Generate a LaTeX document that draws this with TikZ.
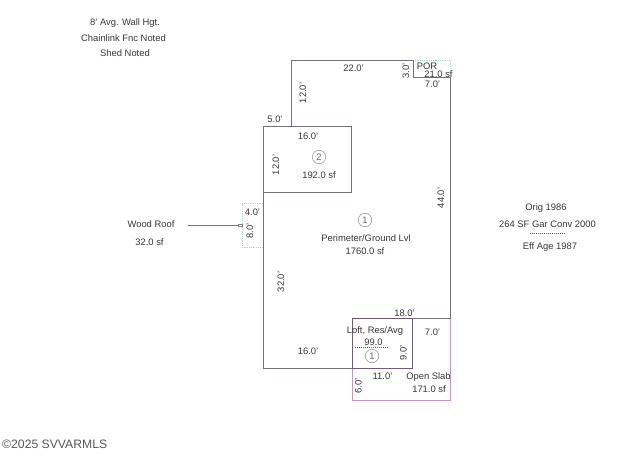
\documentclass[tikz,border=0pt]{standalone}
\usepackage{fontspec}
\setmainfont{Liberation Sans}
\definecolor{wallc}{RGB}{118,112,124}
\definecolor{tealc}{RGB}{175,215,210}
\definecolor{slabc}{RGB}{200,150,195}
\definecolor{loftc}{RGB}{115,90,120}
\definecolor{txt}{RGB}{55,55,55}
\tikzset{
 lbl/.style={font=\fontsize{9.4}{11}\selectfont,text=txt,inner sep=0pt,align=center},
 vlbl/.style={lbl,rotate=90},
 wall/.style={draw=wallc,line width=0.9pt},
 tealbox/.style={draw=tealc,line width=0.8pt,densely dotted},
 slab/.style={draw=slabc,line width=0.9pt},
 loft/.style={draw=loftc,line width=1pt},
 badge/.style={circle,draw=gray,line width=0.4pt,minimum size=13.5pt,inner sep=0pt,font=\fontsize{9.4}{11}\selectfont,text=gray!80!black}
}
\begin{document}
\begin{tikzpicture}[x=1pt,y=-1pt]
\useasboundingbox (0,0) rectangle (640,460);
\fill[white] (0,0) rectangle (640,460);
% teal
\draw[tealbox] (413,60) -- (450,60) -- (450,77);
\draw[tealbox] (263,203) -- (242,203) -- (242,247) -- (263,247);
% slab
\draw[slab] (412,318) -- (450,318) -- (450,400.5) -- (352,400.5) -- (352,368);
% walls
\draw[wall] (263,192) -- (263,368) -- (352,368);
\draw[wall] (263,126) rectangle (351,192);
\draw[wall] (291,126) -- (291,60) -- (413,60) -- (413,77) -- (450,77) -- (450,318) -- (412,318);
\draw[loft] (352,318) rectangle (412,368);
% arrow
\coordinate (wrs) at (188,225);
\node[draw=gray,line width=0.4pt,minimum width=4pt,minimum height=2.5pt,inner sep=0pt] (wrtip) at (240,225) {};
\draw[wallc,line width=0.6pt] (wrs) -- (wrtip);
% loft dashed
\draw[gray!70!black,line width=0.5pt,dash pattern=on 1.2pt off 0.8pt] (355,347) -- (388,347);
% badges
\node[badge] (b2) at (319,157) {2};
\node[badge] (b1) at (365,220) {1};
\node[badge] (b3) at (372,356) {1};
% texts
\node[lbl] at (125,23) {8' Avg. Wall Hgt.};
\node[lbl] at (123.5,38.5) {Chainlink Fnc Noted};
\node[lbl] at (125,53) {Shed Noted};
\node[lbl] at (353.5,68) {22.0'};
\node[vlbl] at (406,71) {3.0'};
\node[lbl] at (427,66) {POR};
\node[lbl] at (438.5,74) {21.0 sf};
\node[lbl] at (432.5,84.5) {7.0'};
\node[vlbl] at (303,93) {12.0'};
\node[lbl] at (275,119) {5.0'};
\node[lbl] at (308,136) {16.0'};
\node[vlbl] at (276,165) {12.0'};
\node[lbl] at (319,175) {192.0 sf};
\node[vlbl] at (441,198) {44.0'};
\node[lbl] at (151,224.5) {Wood Roof};
\node[lbl] at (149.5,242) {32.0 sf};
\node[lbl] at (252.5,212) {4.0'};
\node[vlbl] at (250,231) {8.0'};
\node[lbl] at (366,238) {Perimeter/Ground Lvl};
\node[lbl] at (365,251) {1760.0 sf};
\node[vlbl] at (281,282) {32.0'};
\node[lbl] at (308,351) {16.0'};
\node[lbl] at (404.5,313) {18.0'};
\node[lbl] at (432.5,332) {7.0'};
\node[lbl] at (375,331) {Loft, Res/Avg};
\node[lbl] at (373.5,342) {99.0};
\node[vlbl] at (403.5,353) {9.0'};
\node[lbl] at (382.5,376.5) {11.0'};
\node[vlbl] at (358.5,386) {6.0'};
\node[lbl] at (428.5,377.5) {Open Slab};
\node[lbl] at (429,389.5) {171.0 sf};
\node[lbl] at (546,208) {Orig 1986};
\node[lbl] at (547.5,224) {264 SF Gar Conv 2000};
\draw[gray!70!black,line width=0.5pt,dash pattern=on 1.2pt off 0.8pt] (530,233.5) -- (565,233.5);
\node[lbl] at (550,247) {Eff Age 1987};
\node[lbl,font=\fontsize{12.2}{14}\selectfont,text=black!65,anchor=west] at (2,444) {©2025 SVVARMLS};
\end{tikzpicture}
\end{document}
